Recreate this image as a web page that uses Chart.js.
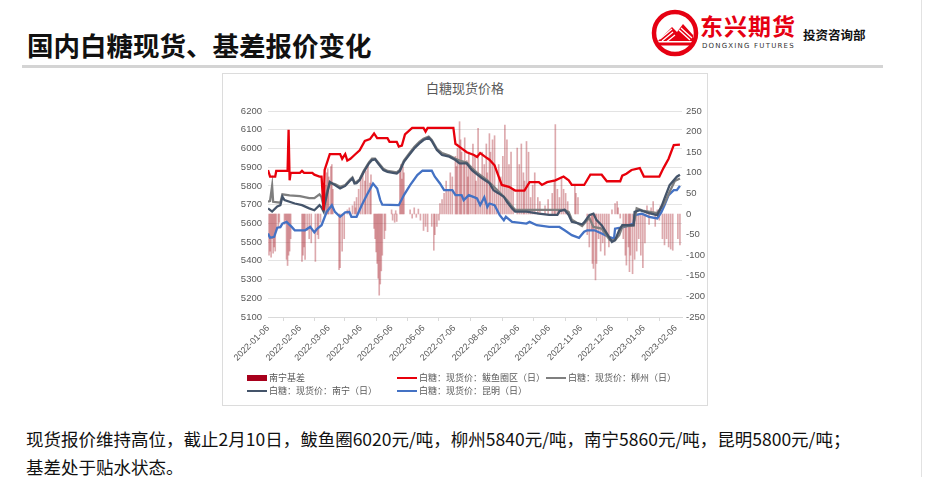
<!DOCTYPE html>
<html>
<head>
<meta charset="utf-8">
<script src="https://cdn.jsdelivr.net/npm/chart.js@4"></script>
<style>
  body { margin: 0; background: #fff; font-family: "Noto Sans CJK SC", "Noto Sans", sans-serif; }
  #page { position: relative; width: 927px; height: 477px; overflow: hidden; background: #fff; }
  .abs { position: absolute; white-space: nowrap; }
  #title { left: 27px; top: 25px; font-size: 26.5px; font-weight: bold; color: #111; }
  #rule { left: 22px; top: 65px; width: 861px; height: 3px; background: #d4d4d4; }
  #edge { left: 921px; top: 0; width: 1px; height: 477px; background: #e2e2e2; }
  #box { left: 222px; top: 73px; width: 486px; height: 333px; border: 1px solid #dcdcdc; box-sizing: border-box; }
  #ctitle { left: 222px; width: 486px; top: 78px; text-align: center; font-size: 13px; color: #595959; }
  #chart { position: absolute; left: 223px; top: 74px; }
  .lg { font-size: 9px; color: #595959; line-height: 12px; }
  .sw { position: absolute; }
  .note { left: 26px; font-size: 17.5px; color: #111; }
  #brand { left: 700px; top: 8px; font-size: 23px; font-weight: bold; color: #e60012; letter-spacing: 1px; }
  #brandEn { left: 702px; top: 42px; font-size: 7px; color: #333; letter-spacing: 1.2px; font-family: "DejaVu Sans", sans-serif; }
  #dept { left: 803px; top: 25px; font-size: 12.5px; font-weight: bold; color: #111; }
</style>
</head>
<body>
<div id="page">
  <div id="title" class="abs">国内白糖现货、基差报价变化</div>
  <svg class="abs" style="left:650px;top:8px" width="50" height="50" viewBox="0 0 50 50">
    <circle cx="25" cy="25" r="21" fill="#fff" stroke="#e60012" stroke-width="4.5"/>
    <path d="M8 33 L22 19 L27 24 L33 16 L43 27 L43 33 Z" fill="#e60012"/>
    <path d="M10 31 L22 21 M12 33 L23 24 M15 35 L25 27 M29 22 L40 32 M31 20 L42 30" stroke="#fff" stroke-width="1.3"/>
    <path d="M9 36 L41 36" stroke="#e60012" stroke-width="3"/>
  </svg>
  <div id="brand" class="abs">东兴期货</div>
  <div id="brandEn" class="abs">DONGXING FUTURES</div>
  <div id="dept" class="abs">投资咨询部</div>
  <div id="rule" class="abs"></div>
  <div id="edge" class="abs"></div>
  <div id="box" class="abs"></div>
  <div id="ctitle" class="abs">白糖现货价格</div>
  <canvas id="chart" width="484" height="300"></canvas>
  <div id="legend"></div>
  <div class="abs note" style="top:426px">现货报价维持高位，截止2月10日，鲅鱼圈6020元/吨，柳州5840元/吨，南宁5860元/吨，昆明5800元/吨；</div>
  <div class="abs note" style="top:454px">基差处于贴水状态。</div>
</div>
<script>
// tick labels on the date axis
const tickLabels = ['2022-01-06', '2022-02-06', '2022-03-06', '2022-04-06', '2022-05-06', '2022-06-06', '2022-07-06',
  '2022-08-06', '2022-09-06', '2022-10-06', '2022-11-06', '2022-12-06', '2023-01-06', '2023-02-06'];

// 白糖：现货价：鲅鱼圈区（日）
const bayuquan = [
  ['2022-01-06', 5885], ['2022-01-08', 5850], ['2022-01-13', 5850], ['2022-01-14', 5880], ['2022-01-25', 5880],
  ['2022-01-26', 6100], ['2022-01-27', 5830], ['2022-01-28', 5870], ['2022-02-06', 5870], ['2022-02-08', 5880],
  ['2022-02-10', 5870], ['2022-02-18', 5870], ['2022-02-20', 5860], ['2022-02-25', 5850], ['2022-02-27', 5850],
  ['2022-03-01', 5670], ['2022-03-02', 5885], ['2022-03-07', 5970], ['2022-03-17', 5970], ['2022-03-19', 5945],
  ['2022-03-22', 5970], ['2022-03-24', 5935], ['2022-03-27', 5945], ['2022-03-31', 5965], ['2022-04-05', 5990],
  ['2022-04-10', 6040], ['2022-04-15', 6050], ['2022-04-19', 6080], ['2022-04-22', 6055], ['2022-05-02', 6055],
  ['2022-05-04', 6035], ['2022-05-11', 6035], ['2022-05-13', 6010], ['2022-05-16', 6015], ['2022-05-19', 6075],
  ['2022-05-26', 6110], ['2022-06-06', 6110], ['2022-06-08', 6090], ['2022-06-10', 6110], ['2022-07-05', 6110],
  ['2022-07-07', 6025], ['2022-07-13', 6000], ['2022-07-18', 5980], ['2022-07-25', 5965], ['2022-07-28', 5955],
  ['2022-07-31', 5975], ['2022-08-05', 5955], ['2022-08-09', 5940], ['2022-08-14', 5910], ['2022-08-18', 5850],
  ['2022-08-21', 5805], ['2022-08-28', 5795], ['2022-09-03', 5775], ['2022-09-12', 5775], ['2022-09-17', 5820],
  ['2022-09-26', 5820], ['2022-09-29', 5805], ['2022-10-04', 5820], ['2022-10-12', 5830], ['2022-10-20', 5850],
  ['2022-10-25', 5830], ['2022-10-28', 5805], ['2022-11-09', 5805], ['2022-11-15', 5860], ['2022-11-26', 5860],
  ['2022-12-01', 5825], ['2022-12-14', 5825], ['2022-12-16', 5855], ['2022-12-20', 5865], ['2022-12-25', 5885],
  ['2023-01-02', 5895], ['2023-01-06', 5850], ['2023-01-21', 5850], ['2023-01-25', 5895], ['2023-01-30', 5945],
  ['2023-02-04', 6018], ['2023-02-10', 6020]
];

// 白糖：现货价：柳州（日）
const liuzhou = [
  ['2022-01-06', 5715], ['2022-01-08', 5720], ['2022-01-10', 5800], ['2022-01-11', 5715], ['2022-01-18', 5710],
  ['2022-01-20', 5755], ['2022-01-27', 5750], ['2022-02-06', 5745], ['2022-02-15', 5735], ['2022-02-20', 5735],
  ['2022-02-25', 5755], ['2022-02-27', 5740], ['2022-03-01', 5690], ['2022-03-02', 5730], ['2022-03-07', 5815],
  ['2022-03-12', 5810], ['2022-03-17', 5795], ['2022-03-22', 5805], ['2022-03-27', 5835], ['2022-03-29', 5845],
  ['2022-03-31', 5820], ['2022-04-02', 5822], ['2022-04-05', 5835], ['2022-04-09', 5880], ['2022-04-14', 5925],
  ['2022-04-17', 5945], ['2022-04-20', 5945], ['2022-04-23', 5925], ['2022-04-28', 5892], ['2022-05-02', 5880],
  ['2022-05-11', 5872], ['2022-05-14', 5885], ['2022-05-18', 5935], ['2022-05-23', 5972], ['2022-05-28', 6008],
  ['2022-06-02', 6035], ['2022-06-06', 6052], ['2022-06-11', 6063], ['2022-06-14', 6045], ['2022-06-19', 5998],
  ['2022-06-24', 5975], ['2022-07-01', 5962], ['2022-07-07', 5945], ['2022-07-11', 5935], ['2022-07-18', 5925],
  ['2022-07-23', 5895], ['2022-07-28', 5870], ['2022-08-07', 5830], ['2022-08-18', 5770], ['2022-08-26', 5725],
  ['2022-08-31', 5690], ['2022-09-03', 5672], ['2022-10-21', 5672], ['2022-10-25', 5660], ['2022-10-28', 5620],
  ['2022-11-07', 5586], ['2022-11-14', 5630], ['2022-11-18', 5581], ['2022-11-26', 5572], ['2022-12-04', 5510],
  ['2022-12-09', 5510], ['2022-12-13', 5537], ['2022-12-16', 5581], ['2022-12-27', 5590], ['2022-12-30', 5680],
  ['2023-01-06', 5666], ['2023-01-19', 5655], ['2023-01-26', 5706], ['2023-01-31', 5769], ['2023-02-05', 5826],
  ['2023-02-10', 5840]
];

// 白糖：现货价：南宁（日）
const nanning = [
  ['2022-01-06', 5680], ['2022-01-10', 5663], ['2022-01-15', 5690], ['2022-01-18', 5697], ['2022-01-20', 5742],
  ['2022-01-22', 5724], ['2022-02-01', 5706], ['2022-02-08', 5697], ['2022-02-15', 5680], ['2022-02-20', 5670],
  ['2022-02-25', 5697], ['2022-02-27', 5685], ['2022-03-01', 5663], ['2022-03-02', 5700], ['2022-03-07', 5822],
  ['2022-03-12', 5804], ['2022-03-17', 5786], ['2022-03-22', 5800], ['2022-03-27', 5830], ['2022-03-29', 5840],
  ['2022-03-31', 5813], ['2022-04-02', 5815], ['2022-04-05', 5831], ['2022-04-09', 5875], ['2022-04-14', 5920],
  ['2022-04-17', 5938], ['2022-04-20', 5942], ['2022-04-23', 5920], ['2022-04-28', 5884], ['2022-05-02', 5875],
  ['2022-05-11', 5866], ['2022-05-14', 5880], ['2022-05-18', 5929], ['2022-05-23', 5965], ['2022-05-28', 6000],
  ['2022-06-02', 6027], ['2022-06-06', 6045], ['2022-06-11', 6058], ['2022-06-14', 6040], ['2022-06-19', 5991],
  ['2022-06-24', 5965], ['2022-07-01', 5956], ['2022-07-07', 5938], ['2022-07-11', 5920], ['2022-07-18', 5920],
  ['2022-07-23', 5884], ['2022-07-28', 5862], ['2022-08-02', 5840], ['2022-08-07', 5822], ['2022-08-09', 5815],
  ['2022-08-13', 5777], ['2022-08-18', 5760], ['2022-08-23', 5742], ['2022-08-26', 5715], ['2022-08-31', 5680],
  ['2022-09-03', 5663], ['2022-09-14', 5663], ['2022-09-26', 5652], ['2022-10-06', 5645], ['2022-10-14', 5645],
  ['2022-10-16', 5665], ['2022-10-21', 5672], ['2022-10-25', 5645], ['2022-10-28', 5608], ['2022-11-07', 5595],
  ['2022-11-09', 5605], ['2022-11-14', 5644], ['2022-11-18', 5652], ['2022-11-21', 5617], ['2022-11-26', 5590],
  ['2022-12-01', 5546], ['2022-12-06', 5501], ['2022-12-09', 5510], ['2022-12-13', 5563], ['2022-12-16', 5590],
  ['2022-12-27', 5590], ['2022-12-28', 5661], ['2023-01-02', 5670], ['2023-01-11', 5655], ['2023-01-19', 5644],
  ['2023-01-23', 5688], ['2023-01-26', 5733], ['2023-01-31', 5804], ['2023-02-07', 5849], ['2023-02-10', 5860]
];

// 白糖：现货价：昆明（日）
const kunming = [
  ['2022-01-06', 5546], ['2022-01-08', 5523], ['2022-01-12', 5528], ['2022-01-15', 5577], ['2022-01-18', 5580],
  ['2022-01-20', 5599], ['2022-01-24', 5608], ['2022-01-29', 5581], ['2022-02-01', 5563], ['2022-02-11', 5563],
  ['2022-02-16', 5581], ['2022-02-20', 5552], ['2022-02-23', 5572], ['2022-02-27', 5590], ['2022-03-04', 5661],
  ['2022-03-09', 5697], ['2022-03-12', 5661], ['2022-03-17', 5635], ['2022-03-22', 5659], ['2022-03-26', 5661],
  ['2022-03-28', 5635], ['2022-04-02', 5635], ['2022-04-07', 5697], ['2022-04-12', 5751], ['2022-04-18', 5813],
  ['2022-04-22', 5786], ['2022-04-25', 5724], ['2022-04-27', 5700], ['2022-05-13', 5697], ['2022-05-18', 5751],
  ['2022-05-24', 5804], ['2022-05-31', 5858], ['2022-06-05', 5881], ['2022-06-14', 5881], ['2022-06-17', 5849],
  ['2022-06-22', 5813], ['2022-06-26', 5777], ['2022-07-04', 5777], ['2022-07-07', 5751], ['2022-07-13', 5751],
  ['2022-07-15', 5724], ['2022-07-20', 5751], ['2022-07-25', 5740], ['2022-07-28', 5733], ['2022-07-31', 5697],
  ['2022-08-04', 5740], ['2022-08-07', 5688], ['2022-08-09', 5706], ['2022-08-14', 5697], ['2022-08-19', 5644],
  ['2022-08-23', 5617], ['2022-08-25', 5635], ['2022-08-31', 5608], ['2022-09-14', 5599], ['2022-09-17', 5608],
  ['2022-09-24', 5590], ['2022-10-06', 5581], ['2022-10-16', 5581], ['2022-10-21', 5563], ['2022-10-28', 5537],
  ['2022-11-04', 5523], ['2022-11-09', 5555], ['2022-11-12', 5563], ['2022-11-19', 5563], ['2022-11-26', 5546],
  ['2022-12-03', 5528], ['2022-12-08', 5519], ['2022-12-09', 5572], ['2022-12-18', 5581], ['2022-12-22', 5590],
  ['2022-12-27', 5599], ['2022-12-28', 5644], ['2023-01-04', 5652], ['2023-01-11', 5635], ['2023-01-19', 5626],
  ['2023-01-23', 5660], ['2023-01-26', 5697], ['2023-01-30', 5751], ['2023-02-04', 5777], ['2023-02-07', 5777],
  ['2023-02-10', 5800]
];

// 南宁基差 (right axis)
const nanningBasis = [
  ['2022-01-07', -100], ['2022-01-08', -90], ['2022-01-09', -105], ['2022-01-10', -60], ['2022-01-11', -95],
  ['2022-01-12', -80], ['2022-01-13', -90], ['2022-01-14', -40], ['2022-01-16', -30], ['2022-01-17', -20],
  ['2022-01-22', -25], ['2022-01-23', -15], ['2022-01-24', -110], ['2022-01-25', -125], ['2022-01-26', -100],
  ['2022-01-27', -90], ['2022-01-28', -60], ['2022-02-08', -115], ['2022-02-09', -100], ['2022-02-10', -80],
  ['2022-02-11', -110], ['2022-02-13', -40], ['2022-02-15', -60], ['2022-02-17', -70], ['2022-02-21', -115],
  ['2022-02-23', -50], ['2022-02-24', -60], ['2022-02-26', -20], ['2022-03-03', 70], ['2022-03-04', 100],
  ['2022-03-05', 110], ['2022-03-06', 90], ['2022-03-08', 115], ['2022-03-09', 120], ['2022-03-10', 60],
  ['2022-03-16', -135], ['2022-03-17', -130], ['2022-03-19', -90], ['2022-03-21', -60], ['2022-03-24', 10],
  ['2022-03-26', 15], ['2022-03-29', 20], ['2022-03-31', 30], ['2022-04-01', 15], ['2022-04-02', 40],
  ['2022-04-04', 60], ['2022-04-06', 90], ['2022-04-08', 100], ['2022-04-10', 80], ['2022-04-11', 105],
  ['2022-04-13', 120], ['2022-04-15', 75], ['2022-04-16', 95], ['2022-04-19', -35], ['2022-04-20', -60],
  ['2022-04-21', -92], ['2022-04-22', -120], ['2022-04-23', -156], ['2022-04-24', -197], ['2022-04-25', -170],
  ['2022-04-26', -138], ['2022-04-27', -100], ['2022-04-29', -60], ['2022-04-30', -40], ['2022-05-06', 10],
  ['2022-05-07', -15], ['2022-05-09', -20], ['2022-05-10', 8], ['2022-05-11', -18], ['2022-05-14', 110],
  ['2022-05-15', 120], ['2022-05-16', 85], ['2022-05-17', 115], ['2022-05-18', 100], ['2022-05-24', 10],
  ['2022-05-26', -10], ['2022-05-28', 15], ['2022-05-30', -8], ['2022-06-01', 12], ['2022-06-03', -15],
  ['2022-06-06', -40], ['2022-06-08', -30], ['2022-06-10', -43], ['2022-06-14', -30], ['2022-06-16', -88],
  ['2022-06-17', -50], ['2022-06-19', -30], ['2022-06-21', -15], ['2022-06-22', 25], ['2022-06-24', 35],
  ['2022-06-26', 50], ['2022-06-28', 80], ['2022-06-30', 60], ['2022-07-02', 100], ['2022-07-04', 90],
  ['2022-07-07', 140], ['2022-07-08', 115], ['2022-07-09', 160], ['2022-07-11', 224], ['2022-07-12', 180],
  ['2022-07-13', 150], ['2022-07-15', 120], ['2022-07-16', 185], ['2022-07-18', 130], ['2022-07-19', 90],
  ['2022-07-20', 150], ['2022-07-22', 110], ['2022-07-24', 170], ['2022-07-26', 140], ['2022-07-27', 80],
  ['2022-07-29', 208], ['2022-07-31', 90], ['2022-08-02', 150], ['2022-08-04', 120], ['2022-08-06', 170],
  ['2022-08-07', 100], ['2022-08-09', 195], ['2022-08-10', 150], ['2022-08-12', 180], ['2022-08-14', 190],
  ['2022-08-16', 60], ['2022-08-18', 120], ['2022-08-20', 90], ['2022-08-22', 140], ['2022-08-24', 216],
  ['2022-08-26', 180], ['2022-08-28', 120], ['2022-08-30', 150], ['2022-09-01', 60], ['2022-09-05', 160],
  ['2022-09-07', 120], ['2022-09-09', 170], ['2022-09-11', 100], ['2022-09-12', 80], ['2022-09-14', 176],
  ['2022-09-16', 150], ['2022-09-18', 40], ['2022-09-20', 70], ['2022-09-22', 100], ['2022-09-25', 40],
  ['2022-09-27', 30], ['2022-10-02', 20], ['2022-10-05', 35], ['2022-10-09', 50], ['2022-10-11', 80],
  ['2022-10-12', 217], ['2022-10-14', 60], ['2022-10-16', 40], ['2022-10-18', 90], ['2022-10-20', 60],
  ['2022-10-22', 50], ['2022-10-24', 30], ['2022-10-31', 70], ['2022-11-01', 50], ['2022-11-03', 40],
  ['2022-11-12', -50], ['2022-11-14', -80], ['2022-11-16', -40], ['2022-11-17', -120], ['2022-11-18', -132],
  ['2022-11-20', -160], ['2022-11-21', -120], ['2022-11-23', -60], ['2022-11-25', -90], ['2022-11-27', -70],
  ['2022-11-29', -100], ['2022-12-01', -50], ['2022-12-03', -80], ['2022-12-06', 10], ['2022-12-09', 25],
  ['2022-12-11', 30], ['2022-12-12', 15], ['2022-12-14', -10], ['2022-12-17', -60], ['2022-12-19', -100],
  ['2022-12-20', -124], ['2022-12-22', -80], ['2022-12-23', -140], ['2022-12-24', -100], ['2022-12-26', -145],
  ['2022-12-28', -110], ['2022-12-30', -90], ['2023-01-01', -60], ['2023-01-03', -100], ['2023-01-05', -130],
  ['2023-01-07', -70], ['2023-01-09', 20], ['2023-01-11', -25], ['2023-01-13', 15], ['2023-01-15', 30],
  ['2023-01-17', -30], ['2023-01-19', 10], ['2023-01-21', -15], ['2023-01-22', 20], ['2023-01-24', -60],
  ['2023-01-26', -75], ['2023-01-28', -60], ['2023-01-30', -80], ['2023-02-01', -85], ['2023-02-03', -88],
  ['2023-02-08', -60], ['2023-02-10', -75]
];

const seriesNames = ['南宁基差', '白糖：现货价：鲅鱼圈区（日）', '白糖：现货价：柳州（日）', '白糖：现货价：南宁（日）', '白糖：现货价：昆明（日）'];
const seriesColors = ['#a8001c', '#e8000b', '#7f7f7f', '#44546a', '#4472c4'];

// days since the first date, used as the x value
const day0 = Date.parse('2022-01-06');
const day = s => Math.round((Date.parse(s) - day0) / 864e5);
const pts = arr => arr.map(([d, v]) => ({ x: day(d), y: v }));

const lineSet = (i, arr, order) => ({
  type: 'line',
  label: seriesNames[i],
  data: pts(arr),
  yAxisID: 'y',
  borderColor: seriesColors[i],
  borderWidth: 2.3,
  pointRadius: 0,
  tension: 0,
  order: order
});

const tickFont = { size: 9.5, family: 'Arial, "Liberation Sans", sans-serif' };

new Chart(document.getElementById('chart'), {
  type: 'line',
  data: {
    datasets: [
      {
        type: 'bar',
        label: seriesNames[0],
        data: pts(nanningBasis),
        yAxisID: 'y1',
        backgroundColor: 'rgba(175,50,60,0.42)',
        barThickness: 1,
        order: 10
      },
      lineSet(4, kunming, 4),
      lineSet(2, liuzhou, 3),
      lineSet(3, nanning, 2),
      lineSet(1, bayuquan, 1)
    ]
  },
  options: {
    responsive: false,
    animation: false,
    layout: { padding: { top: 37, left: 0, right: 0, bottom: 0 } },
    plugins: { legend: { display: false }, tooltip: { enabled: false } },
    scales: {
      x: {
        type: 'linear',
        min: 0,
        max: 402,
        offset: false,
        afterFit: s => { s.height = 57; },
        afterBuildTicks: s => { s.ticks = tickLabels.map(t => ({ value: day(t) })); },
        ticks: {
          autoSkip: false,
          minRotation: 45,
          maxRotation: 45,
          padding: 2,
          color: '#595959',
          font: { size: 9, family: 'Arial, "Liberation Sans", sans-serif' },
          callback: (v, i) => tickLabels[i]
        },
        grid: { display: true, drawOnChartArea: false, color: '#d9d9d9', tickLength: 4 },
        border: { display: true, color: '#d9d9d9' }
      },
      y: {
        position: 'left',
        min: 5100,
        max: 6200,
        afterFit: s => { s.width = 45; },
        ticks: { stepSize: 100, padding: 6, color: '#595959', font: tickFont, callback: v => String(v) },
        grid: { color: '#e3e3e3', drawTicks: false },
        border: { display: false }
      },
      y1: {
        position: 'right',
        min: -250,
        max: 250,
        afterFit: s => { s.width = 25; },
        ticks: { stepSize: 50, padding: 4, color: '#595959', font: tickFont, callback: v => String(v) },
        grid: { display: false, drawTicks: false },
        border: { display: false }
      }
    }
  }
});

// legend laid out like the original, two rows
const legendSpots = [[247, 372, 'box'], [397, 372, 'line'], [546, 372, 'line'], [247, 385, 'line'], [397, 385, 'line']];
const legendEl = document.getElementById('legend');
seriesNames.forEach((name, i) => {
  const [x, y, kind] = legendSpots[i];
  const sw = document.createElement('div');
  sw.className = 'sw';
  sw.style.left = x + 'px';
  sw.style.width = '20px';
  sw.style.background = seriesColors[i];
  if (kind === 'box') { sw.style.top = (y + 3) + 'px'; sw.style.height = '6px'; }
  else { sw.style.top = (y + 5) + 'px'; sw.style.height = '2px'; }
  legendEl.appendChild(sw);
  const tx = document.createElement('div');
  tx.className = 'abs lg';
  tx.style.left = (x + 22) + 'px';
  tx.style.top = y + 'px';
  tx.textContent = name;
  legendEl.appendChild(tx);
});
</script>
</body>
</html>
